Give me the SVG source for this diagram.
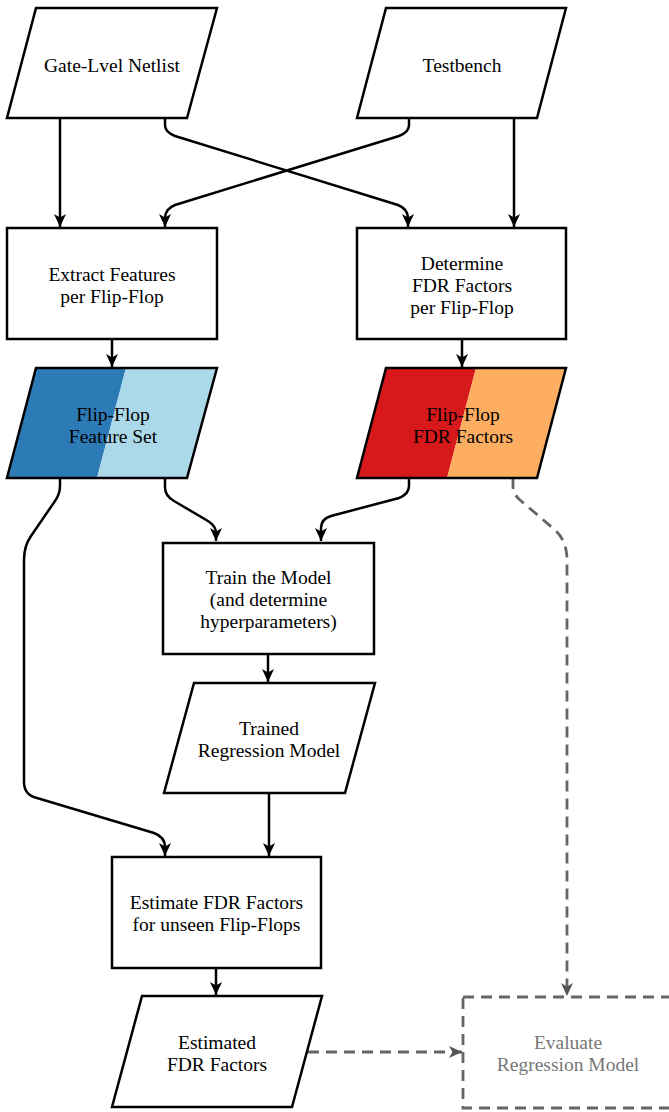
<svg xmlns="http://www.w3.org/2000/svg" width="669" height="1112" viewBox="0 0 669 1112">
<style>
.s{fill:#fff;stroke:#000;stroke-width:2.5;stroke-linejoin:miter}
.t{font-family:"Liberation Serif","Times New Roman",serif;font-size:19.5px;fill:#000;text-anchor:middle}
.g{fill:#777}
.c{fill:none;stroke:#000;stroke-width:2.5}
.d{fill:none;stroke:#666;stroke-width:2.8;stroke-dasharray:11 7}
.nb{fill:none;stroke:#000;stroke-width:2.5}
</style>
<defs>
<marker id="ah" markerUnits="userSpaceOnUse" markerWidth="16" markerHeight="16" viewBox="-1 -8 16 16" refX="13" refY="0" orient="auto">
<path d="M0,-6 L13,0 L0,6 L3.5,0 Z" fill="#000"/>
</marker>
<marker id="ahg" markerUnits="userSpaceOnUse" markerWidth="16" markerHeight="16" viewBox="-1 -8 16 16" refX="13" refY="0" orient="auto">
<path d="M0,-6 L13,0 L0,6 L3.5,0 Z" fill="#555"/>
</marker>
</defs>
<rect width="669" height="1112" fill="#fff"/>

<g id="connectors">
<path class="c" d="M60,118 V227" marker-end="url(#ah)"/>
<path class="c" d="M165,118 V125 Q165,132 175,136 L398,205 Q408,209 408,218 V227" marker-end="url(#ah)"/>
<path class="c" d="M409,118 V125 Q409,132 399,136 L175,205 Q165,209 165,218 V227" marker-end="url(#ah)"/>
<path class="c" d="M514,118 V227" marker-end="url(#ah)"/>
<path class="c" d="M112,339 V367" marker-end="url(#ah)"/>
<path class="c" d="M462,339 V367" marker-end="url(#ah)"/>
<path class="c" d="M165,478 V487 Q165,496 174,501 L208,521 Q216,526 216,533 V541" marker-end="url(#ah)"/>
<path class="c" d="M409,478 V486 Q409,494 399,498 L331,516 Q321,519 321,528 V541" marker-end="url(#ah)"/>
<path class="c" d="M60,478 V486 Q60,494 55,501 L31,536 Q24,546 24,560 V782 Q24,795 37,798 L154,833 Q165,837 165,847 V856" marker-end="url(#ah)"/>
<path class="c" d="M268,654 V682" marker-end="url(#ah)"/>
<path class="c" d="M269,793 V856" marker-end="url(#ah)"/>
<path class="c" d="M216,968 V995" marker-end="url(#ah)"/>
<path class="d" d="M513,478 V486 Q513,494 520,500 L555,530 Q567,541 567,560 V996" marker-end="url(#ahg)"/>
<path class="d" d="M308,1052 H462" marker-end="url(#ahg)"/>
</g>

<g id="gate-level-netlist">
<polygon class="s" points="36,8 217,8 187,118 7,118"/>
<text class="t" x="112" y="72">Gate-Lvel Netlist</text>
</g>
<g id="testbench">
<polygon class="s" points="386,8 566,8 537,118 357,118"/>
<text class="t" x="462" y="72">Testbench</text>
</g>
<g id="extract-features">
<rect class="s" x="7" y="228" width="210" height="111"/>
<text class="t" x="112" y="281">Extract Features</text>
<text class="t" x="112" y="303">per Flip-Flop</text>
</g>
<g id="determine-fdr">
<rect class="s" x="357" y="228" width="209" height="111"/>
<text class="t" x="462" y="270">Determine</text>
<text class="t" x="462" y="292">FDR Factors</text>
<text class="t" x="462" y="314">per Flip-Flop</text>
</g>
<g id="feature-set">
<polygon points="36,368 126,368 97,478 7,478" fill="#2c7bb6"/>
<polygon points="126,368 217,368 187,478 97,478" fill="#abd9e9"/>
<polygon class="nb" points="36,368 217,368 187,478 7,478"/>
<text class="t" x="113" y="421">Flip-Flop</text>
<text class="t" x="113" y="443">Feature Set</text>
</g>
<g id="fdr-factors">
<polygon points="386,368 476,368 447,478 357,478" fill="#d7191c"/>
<polygon points="476,368 566,368 537,478 447,478" fill="#fdae61"/>
<polygon class="nb" points="386,368 566,368 537,478 357,478"/>
<text class="t" x="463" y="421">Flip-Flop</text>
<text class="t" x="463" y="443">FDR Factors</text>
</g>
<g id="train-model">
<rect class="s" x="163" y="543" width="211" height="111"/>
<text class="t" x="268.5" y="584">Train the Model</text>
<text class="t" x="268.5" y="606">(and determine</text>
<text class="t" x="268.5" y="628">hyperparameters)</text>
</g>
<g id="trained-model">
<polygon class="s" points="194,683 375,683 345,793 164,793"/>
<text class="t" x="269" y="735">Trained</text>
<text class="t" x="269" y="757">Regression Model</text>
</g>
<g id="estimate-fdr">
<rect class="s" x="112" y="857" width="209" height="111"/>
<text class="t" x="216.5" y="909">Estimate FDR Factors</text>
<text class="t" x="216.5" y="931">for unseen Flip-Flops</text>
</g>
<g id="estimated-fdr">
<polygon class="s" points="142,996 322,996 292,1107 112,1107"/>
<text class="t" x="217" y="1049">Estimated</text>
<text class="t" x="217" y="1071">FDR Factors</text>
</g>
<g id="evaluate-model">
<rect x="463" y="997" width="210" height="111" fill="none" stroke="#666" stroke-width="2.8" stroke-dasharray="11 7"/>
<text class="t g" x="568" y="1049">Evaluate</text>
<text class="t g" x="568" y="1071">Regression Model</text>
</g>
</svg>
